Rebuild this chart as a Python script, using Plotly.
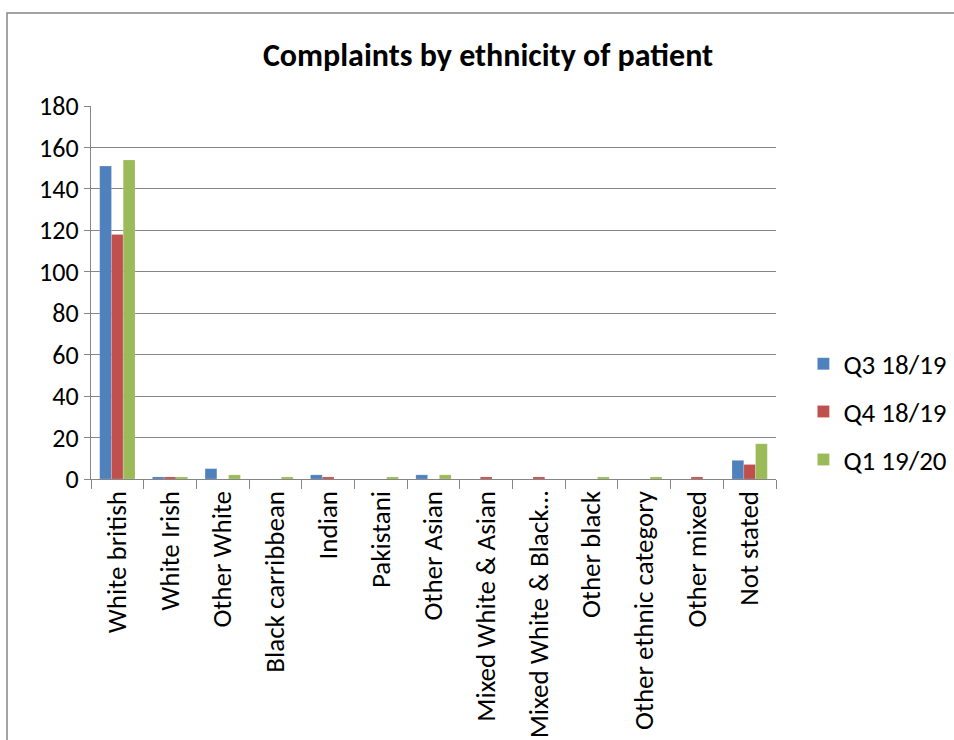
import plotly.graph_objects as go

# Complaints per ethnicity, three quarters
categories = [
    "White british", "White Irish", "Other White", "Black carribbean", "Indian",
    "Pakistani", "Other Asian", "Mixed White & Asian", "Mixed White & Black…",
    "Other black", "Other ethnic category", "Other mixed", "Not stated",
]
q3_1819 = [151, 1, 5, 0, 2, 0, 2, 0, 0, 0, 0, 0, 9]
q4_1819 = [118, 1, 0, 0, 1, 0, 0, 1, 1, 0, 0, 1, 7]
q1_1920 = [154, 1, 2, 1, 0, 1, 2, 0, 0, 1, 1, 0, 17]

series = [
    ("Q3 18/19", q3_1819, "#4F81BD", "legend", 0.308),
    ("Q4 18/19", q4_1819, "#C0504D", "legend2", 0.180),
    ("Q1 19/20", q1_1920, "#9BBB59", "legend3", 0.051),
]

font_family = "Carlito, Lato, 'Open Sans', sans-serif"

fig = go.Figure()
legends = {}
for name, vals, color, leg, ly in series:
    fig.add_trace(go.Bar(
        name=name, x=categories, y=vals, legend=leg,
        marker=dict(color=color, line=dict(color="rgba(255,255,255,0.35)", width=0.5)),
    ))
    legends[leg] = dict(
        x=1.04, xanchor="left", y=ly, yanchor="middle",
        font=dict(size=27), bgcolor="rgba(0,0,0,0)",
    )

fig.update_layout(
    width=954, height=740,
    margin=dict(l=91, r=178, t=106, b=261, autoexpand=False),
    paper_bgcolor="white", plot_bgcolor="white",
    barmode="group", bargap=0.33, bargroupgap=0,
    font=dict(family=font_family, color="black", size=27),
    title=dict(
        text="<b>Complaints by ethnicity of patient</b>",
        x=488 / 954, xanchor="center", y=1 - 55 / 740, yanchor="middle",
        font=dict(size=32, family=font_family),
    ),
    showlegend=True,
    xaxis=dict(
        type="category", tickangle=-90, showgrid=False, automargin=False,
        showline=True, linecolor="#868686", linewidth=1.3,
        ticks="outside", tickson="boundaries", ticklen=9,
        tickcolor="#868686", tickwidth=1.3,
        tickfont=dict(size=27),
    ),
    yaxis=dict(
        range=[0, 180], dtick=20, showgrid=True, gridcolor="#868686", gridwidth=1.3,
        showline=True, linecolor="#868686", linewidth=1.3, automargin=False,
        ticks="outside", ticklen=6, tickcolor="#868686", tickwidth=1.3,
        tickfont=dict(size=26), zeroline=False,
    ),
    shapes=[
        dict(type="rect", xref="paper", yref="paper",
             x0=(7 - 91) / 685, x1=1.5, y0=-1.0, y1=(479 - 13) / 373,
             line=dict(color="#868686", width=1.5), fillcolor="rgba(0,0,0,0)",
             layer="below"),
    ],
    **legends,
)

fig.write_html("out.html")
